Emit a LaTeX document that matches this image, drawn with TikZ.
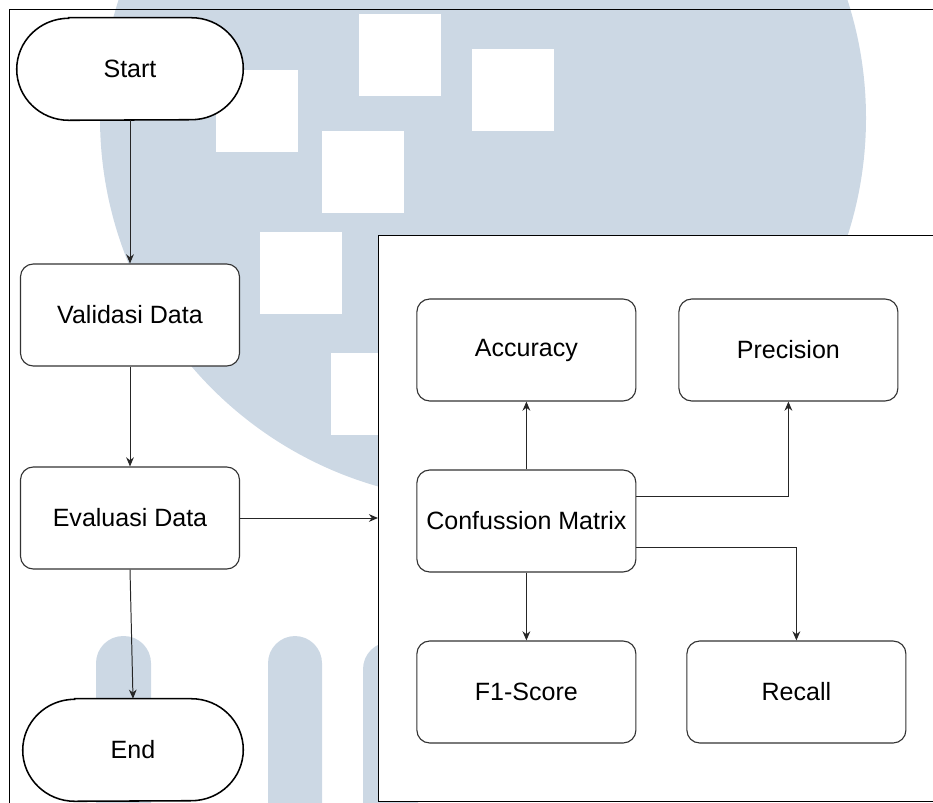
\documentclass[tikz,border=0pt]{standalone}
\usepackage{fontspec}
\setmainfont{Liberation Sans}
\usepackage{tikz}
\usetikzlibrary{arrows.meta}
\pgfdeclarelayer{watermark}
\pgfdeclarelayer{background}
\pgfsetlayers{watermark,background,main}
\definecolor{markblue}{RGB}{204,216,228}
% terminator outline with half-elliptic ends
\newcommand{\termshape}[1]{%
  \draw[draw=black,line width=1.1pt,fill=white] ([xshift=1.3cm]#1.north west) -- ([xshift=-1.3cm]#1.north east)
    arc[start angle=90,end angle=-90,x radius=1.3cm,y radius=1.275cm] -- ([xshift=1.3cm]#1.south west)
    arc[start angle=270,end angle=90,x radius=1.3cm,y radius=1.275cm] -- cycle;}

\begin{document}
\begin{tikzpicture}[font=\fontsize{17.8}{21}\selectfont,
	  terminal/.style={rectangle,inner sep=0pt,minimum height=2.55cm},
	  procbox/.style={rectangle,rounded corners=0.32cm,draw=black!80,line width=0.8pt,fill=white,minimum width=5.475cm,minimum height=2.55cm},
	  arr/.style={draw=black!85,line width=0.7pt,-{Stealth[length=6.5pt,width=5.5pt]}},
	  pillar/.style={fill=markblue,rounded corners=0.68cm},
	  ]
	  \useasboundingbox (0,0) rectangle (23.325,20.05);
	  \begin{pgfonlayer}{watermark}
	    \clip (0,0) rectangle (23.325,20.05);
	    \fill[markblue] (12.075,17.1) circle (9.575);
	    \foreach \x/\y in {5.4/16.25, 8.975/17.65, 11.8/16.775, 8.05/14.725, 6.5/12.2, 8.275/9.175}
	      \fill[white] (\x,\y) rectangle ++(2.05,2.05);
	    \path[pillar] (2.4,-1) rectangle (3.775,4.15);
	    \path[pillar] (6.7,-1) rectangle (8.05,4.15);
	    \path[pillar] (9.075,-1) rectangle (10.45,4.0);
	    \draw[line width=0.7pt] (0.225,-1) rectangle (24,19.825);
	    \draw[line width=0.7pt,fill=white] (9.45,0.025) rectangle (24,14.175);
	  \end{pgfonlayer}
	  \node[terminal,minimum width=5.65cm] (start) at (3.25,18.325) {Start};
	  \node[procbox] (valid) at (3.25,12.175) {Validasi Data};
	  \node[procbox] (eval) at (3.25,7.1) {Evaluasi Data};
	  \node[terminal,minimum width=5.5cm] (end) at (3.325,1.3) {End};
	  \begin{pgfonlayer}{background}
	    \termshape{start}
	    \termshape{end}
	  \end{pgfonlayer}
	  \coordinate (frameW) at (9.45,7.1);
	  \node[procbox] (acc) at (13.16,11.3) {Accuracy};
	  \node[procbox] (prec) at (19.71,11.3) {Precision};
	  \node[procbox] (cm) at (13.16,7.025) {Confussion Matrix};
	  \node[procbox] (f1) at (13.16,2.75) {F1-Score};
	  \node[procbox] (rec) at (19.91,2.75) {Recall};
	  \draw[arr] (start) -- (valid);
	  \draw[arr] (valid) -- (eval);
	  \draw[arr] (eval.south) -- (end.north);
	  \draw[arr] (eval) -- (frameW);
	  \draw[arr] (cm) -- (acc);
	  \draw[arr] ([yshift=0.625cm]cm.east) -| (prec);
	  \draw[arr] ([yshift=-0.65cm]cm.east) -| (rec);
	  \draw[arr] (cm) -- (f1);
	\end{tikzpicture}
\end{document}
